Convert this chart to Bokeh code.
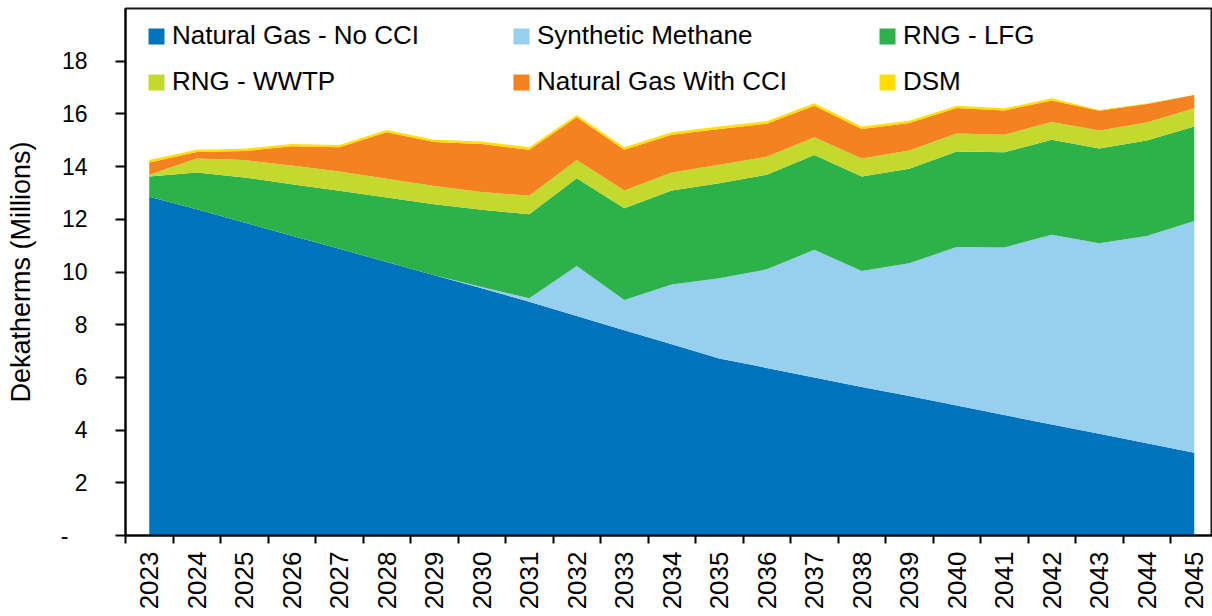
import numpy as np
from bokeh.plotting import figure
from bokeh.models import ColumnDataSource, Range1d, FixedTicker, Legend, LegendItem
from bokeh.embed import file_html
from bokeh.resources import INLINE

# ---------------- data ----------------
years = list(range(2023, 2046))

natural_gas_no_cci = [12.86, 12.38, 11.88, 11.38, 10.88, 10.38, 9.88, 9.38, 8.87, 8.33, 7.79, 7.26,
                      6.72, 6.36, 6.00, 5.64, 5.29, 4.93, 4.57, 4.21, 3.86, 3.50, 3.14]
synthetic_methane = [0.00, 0.00, 0.00, 0.00, 0.00, 0.00, 0.00, 0.05, 0.13, 1.90, 1.15, 2.27,
                     3.04, 3.74, 4.84, 4.40, 5.04, 6.02, 6.36, 7.20, 7.23, 7.87, 8.80]
rng_lfg = [0.76, 1.40, 1.71, 1.95, 2.20, 2.45, 2.69, 2.93, 3.19, 3.33, 3.48, 3.56,
           3.61, 3.59, 3.60, 3.58, 3.59, 3.62, 3.61, 3.61, 3.60, 3.62, 3.58]
rng_wwtp = [0.07, 0.53, 0.66, 0.71, 0.73, 0.71, 0.69, 0.68, 0.70, 0.69, 0.67, 0.69,
            0.70, 0.68, 0.67, 0.69, 0.69, 0.69, 0.67, 0.67, 0.68, 0.68, 0.69]
natural_gas_with_cci = [0.47, 0.24, 0.34, 0.73, 0.92, 1.76, 1.67, 1.82, 1.75, 1.62, 1.55, 1.43,
                        1.36, 1.26, 1.20, 1.12, 1.04, 0.96, 0.92, 0.82, 0.75, 0.71, 0.51]
dsm = [0.09, 0.09, 0.09, 0.09, 0.09, 0.09, 0.09, 0.09, 0.09, 0.09, 0.09, 0.09,
       0.09, 0.09, 0.09, 0.09, 0.09, 0.09, 0.08, 0.08, 0.03, 0.01, 0.00]

series_names = ["Natural Gas - No CCI", "Synthetic Methane", "RNG - LFG",
                "RNG - WWTP", "Natural Gas With CCI", "DSM"]
series_keys = ["ng", "sm", "lfg", "wwtp", "cci", "dsm"]
series_colors = ["#0073BD", "#97CFEF", "#2DB24B", "#C4D92E", "#F58220", "#FFDE00"]

y_ticks = [0, 2, 4, 6, 8, 10, 12, 14, 16, 18]
y_axis_title = "Dekatherms (Millions)"

FONT = "Liberation Sans"

# ---------------- figure ----------------
p = figure(width=1212, height=616,
           x_range=Range1d(years[0] - 0.5, years[0] - 0.5 + 1087 / 47.5),
           y_range=Range1d(0, 20),
           output_backend="svg", toolbar_location=None,
           min_border_left=125, min_border_right=0, min_border_top=8, min_border_bottom=81,
           background_fill_color="white", border_fill_color="white")

src = ColumnDataSource(dict(x=years, ng=natural_gas_no_cci, sm=synthetic_methane, lfg=rng_lfg,
                            wwtp=rng_wwtp, cci=natural_gas_with_cci, dsm=dsm))

renderers = p.varea_stack(stackers=series_keys, x="x", source=src, fill_color=series_colors)

# legends: three columns of two rows
columns = [(0, 3), (1, 4), (2, 5)]
col_x = [21, 386, 752]
for col, xo in zip(columns, col_x):
    leg = Legend(items=[LegendItem(label=series_names[i], renderers=[renderers[i]]) for i in col],
                 location=(xo, 438), orientation="vertical",
                 padding=0, margin=0, spacing=15,
                 glyph_width=20, glyph_height=20, label_height=29, label_standoff=6,
                 label_text_font=FONT, label_text_font_size="26px", label_text_color="black",
                 background_fill_alpha=0, border_line_color=None)
    p.add_layout(leg)

# grids / outline
p.xgrid.visible = False
p.ygrid.visible = False
p.outline_line_color = "#1a1a1a"
p.outline_line_width = 2

# y axis
ya = p.yaxis[0]
ya.ticker = FixedTicker(ticks=y_ticks)
ya.major_label_overrides = {0: "-\u00a0\u00a0\u00a0"}
ya.axis_label = y_axis_title
ya.axis_label_text_font = FONT
ya.axis_label_text_font_size = "27px"
ya.axis_label_text_font_style = "normal"
ya.axis_label_text_color = "black"
ya.axis_label_standoff = 22
ya.major_label_text_font = FONT
ya.major_label_text_font_size = "23px"
ya.major_label_text_color = "black"
ya.major_label_standoff = 28
ya.major_tick_out = 10
ya.major_tick_in = 0
ya.major_tick_line_width = 2
ya.major_tick_line_color = "black"
ya.minor_tick_line_color = None
ya.axis_line_width = 2
ya.axis_line_color = "black"

# x axis: labels at year centres, tick marks between years
xa = p.xaxis[0]
xa.ticker = FixedTicker(ticks=years, minor_ticks=[y - 0.5 for y in years] + [years[-1] + 0.5])
xa.major_label_orientation = np.pi / 2
xa.major_label_text_font = FONT
xa.major_label_text_font_size = "26px"
xa.major_label_text_color = "black"
xa.major_label_standoff = 8
xa.major_tick_out = 0
xa.major_tick_in = 0
xa.minor_tick_out = 8
xa.minor_tick_in = 0
xa.minor_tick_line_width = 2
xa.minor_tick_line_color = "black"
xa.axis_line_width = 2
xa.axis_line_color = "black"

open("out.html", "w").write(file_html(p, INLINE))
